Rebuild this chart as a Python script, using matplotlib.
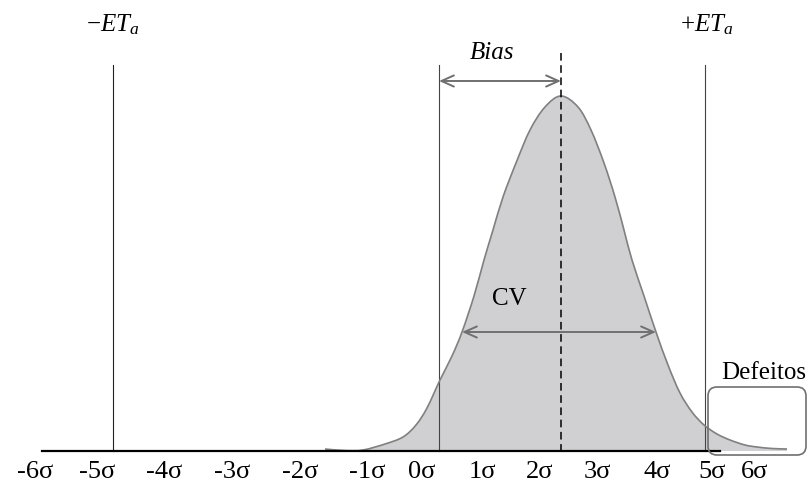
import matplotlib
matplotlib.use("Agg")
import matplotlib.pyplot as plt
from matplotlib.patches import FancyBboxPatch, PathPatch
from matplotlib.path import Path

plt.rcParams["font.family"] = ["Liberation Serif", "DejaVu Serif"]
plt.rcParams["mathtext.fontset"] = "custom"
plt.rcParams["mathtext.rm"] = "Liberation Serif"
plt.rcParams["mathtext.it"] = "Liberation Serif:italic"

# schematic, in drawing units (x to the right, y downwards)
curve_x = [325, 345, 363, 385, 403, 416, 427, 440, 452, 462, 474, 484, 493,
           503, 516, 530, 545, 561, 578, 591, 604, 615, 624, 632, 644, 656,
           668, 680, 692, 704, 717, 730, 745, 757, 772, 787]
curve_y = [449, 450.5, 450, 444, 437, 425, 408, 380, 356, 332, 296, 260, 230,
           197, 163, 130, 107, 96, 107, 130, 163, 197, 230, 260, 296, 332,
           365, 393, 412, 425, 434, 440, 445, 447, 448.5, 449]
baseline_y = 451
axis_start, axis_end = 42, 720

eta_minus_x, eta_plus_x = 113, 705
target_x, mean_x = 439, 561

tick_labels = ["-6σ", "-5σ", "-4σ", "-3σ", "-2σ", "-1σ", "0σ",
               "1σ", "2σ", "3σ", "4σ", "5σ", "6σ"]
tick_x = [35, 97, 164, 232, 300, 367, 422, 482, 540, 597, 657, 712, 755]

bias_y = 81
cv_y, cv_left, cv_right = 332, 462, 656


def smooth_path(xs, ys, close_to=None):
    # cubic Bezier through the points (Catmull-Rom control points)
    pts = list(zip(xs, ys))
    verts = [pts[0]]
    codes = [Path.MOVETO]
    n = len(pts)
    for i in range(n - 1):
        p0 = pts[i - 1] if i > 0 else pts[i]
        p1, p2 = pts[i], pts[i + 1]
        p3 = pts[i + 2] if i + 2 < n else pts[i + 1]
        c1 = (p1[0] + (p2[0] - p0[0]) / 6, p1[1] + (p2[1] - p0[1]) / 6)
        c2 = (p2[0] - (p3[0] - p1[0]) / 6, p2[1] - (p3[1] - p1[1]) / 6)
        verts += [c1, c2, p2]
        codes += [Path.CURVE4] * 3
    if close_to is not None:
        verts += [(xs[-1], close_to), (xs[0], close_to), pts[0]]
        codes += [Path.LINETO, Path.LINETO, Path.CLOSEPOLY]
    return Path(verts, codes)


fig = plt.figure(figsize=(8.08, 4.84), dpi=100)
ax = fig.add_axes([0, 0, 1, 1])
ax.set_xlim(0, 808)
ax.set_ylim(484, 0)
ax.axis("off")

# distribution
ax.add_patch(PathPatch(smooth_path(curve_x, curve_y, close_to=baseline_y),
                       fc="#d0cfd1", ec="none", zorder=1))
ax.add_patch(PathPatch(smooth_path(curve_x, curve_y), fc="none",
                       ec="#808080", lw=1.2, zorder=3))

# baseline
ax.plot([axis_start, axis_end], [baseline_y, baseline_y], color="black", lw=1.6, zorder=4)

# vertical lines
ax.plot([eta_minus_x, eta_minus_x], [65, baseline_y], color="#222222", lw=0.8, zorder=2)
ax.plot([target_x, target_x], [65, baseline_y], color="#444444", lw=0.8, zorder=2)
ax.plot([eta_plus_x, eta_plus_x], [65, baseline_y], color="#444444", lw=0.8, zorder=2)
ax.plot([mean_x, mean_x], [53, baseline_y], color="black", lw=1.1,
        linestyle=(0, (5, 3)), zorder=4)

# arrows
arrow = dict(arrowstyle="<->,head_length=0.45,head_width=0.2", color="#707070",
             lw=1.4, mutation_scale=20, shrinkA=0, shrinkB=0)
ax.annotate("", xy=(mean_x, bias_y), xytext=(target_x, bias_y), arrowprops=arrow, zorder=5)
ax.annotate("", xy=(cv_right, cv_y), xytext=(cv_left, cv_y), arrowprops=arrow, zorder=5)

# defects box
box = FancyBboxPatch((708, 387), 98, 68, boxstyle="round,pad=0,rounding_size=9",
                     fc="none", ec="#707070", lw=1.2, zorder=5)
ax.add_patch(box)

# texts
ax.text(eta_minus_x, 25, r"$-ET_a$", fontsize=18, ha="center", va="center")
ax.text(eta_plus_x + 2, 25, r"$+ET_a$", fontsize=18, ha="center", va="center")
ax.text(492, 53, "Bias", fontsize=18, style="italic", ha="center", va="center")
ax.text(509, 299, "CV", fontsize=18, ha="center", va="center")
ax.text(806, 373, "Defeitos", fontsize=18, ha="right", va="center")

for lab, x in zip(tick_labels, tick_x):
    ax.text(x, 483, lab, fontsize=19, ha="center", va="bottom")

fig.savefig("out.png", dpi=100)
